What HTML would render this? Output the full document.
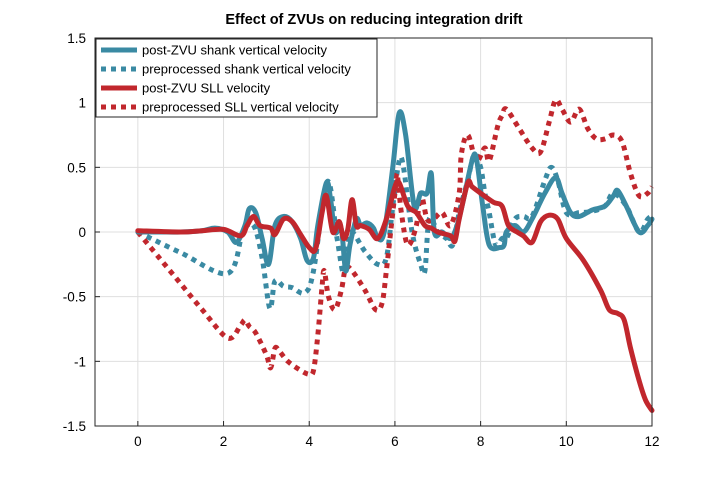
<!DOCTYPE html>
<html><head><meta charset="utf-8"><style>
body{margin:0;background:#fff;font-family:"Liberation Sans",sans-serif}
</style></head><body>
<svg id="chart" width="720" height="480" xmlns="http://www.w3.org/2000/svg" font-family="Liberation Sans, sans-serif">
<rect width="720" height="480" fill="#fff"/>
<text x="374" y="24" text-anchor="middle" font-size="14.5" font-weight="bold">Effect of ZVUs on reducing integration drift</text>
<g id="grid"></g><g id="series"></g><g id="axes"></g>
</svg>
<script>
const xTicks=[0,2,4,6,8,10,12];
const yTicks=[-1.5,-1,-0.5,0,0.5,1,1.5];
const yTickLabels=["-1.5","-1","-0.5","0","0.5","1","1.5"];
const seriesNames=["post-ZVU shank vertical velocity","preprocessed shank vertical velocity","post-ZVU SLL velocity","preprocessed SLL vertical velocity"];
const shankPostX=[0,0.5,1,1.5,1.8,2.1,2.3,2.5,2.6,2.75,2.9,3.05,3.2,3.4,3.6,3.8,3.95,4.1,4.2,4.4,4.5,4.6,4.75,4.85,4.95,5.1,5.2,5.35,5.5,5.6,5.75,5.95,6.1,6.25,6.45,6.6,6.75,6.85,6.92,7.1,7.3,7.45,7.6,7.8,7.9,8.05,8.2,8.45,8.55,8.6,8.8,9.0,9.2,9.5,9.75,9.9,10.1,10.3,10.6,10.9,11.1,11.2,11.4,11.7,11.9,12];
const shankPostY=[0,0,0,0.01,0.03,0,-0.08,0.05,0.18,0.15,-0.05,-0.25,0.05,0.12,0.08,-0.05,-0.22,-0.2,0.05,0.38,0.25,0,0.02,-0.3,-0.1,0.1,0.05,0.07,0.03,-0.05,0,0.5,0.92,0.75,0.2,0.3,0.3,0.45,0,0,-0.05,0.05,0.25,0.55,0.57,0.2,-0.1,-0.12,-0.1,0,0.05,0,0.1,0.3,0.42,0.3,0.15,0.12,0.17,0.2,0.28,0.32,0.2,0,0.05,0.1];
const shankPreX=[0,1,2.1,2.45,2.7,2.9,3.08,3.2,3.4,3.6,3.9,4.1,4.42,4.65,4.8,4.9,5.0,5.3,5.6,5.8,5.95,6.1,6.2,6.4,6.6,6.7,6.8,7.0,7.2,7.35,7.5,7.7,7.85,8.0,8.1,8.2,8.35,8.5,8.6,8.8,9.0,9.2,9.5,9.65,9.8,10.0,10.3,10.6,10.9,11.1,11.4,11.7,11.9,12];
const shankPreY=[0,-0.16,-0.32,0,0.05,-0.2,-0.59,-0.38,-0.42,-0.43,-0.47,-0.3,0.39,-0.05,-0.32,-0.1,0,-0.15,-0.25,-0.2,0.2,0.55,0.5,0,-0.25,-0.3,0.1,0,-0.05,-0.1,0.15,0.4,0.6,0.5,0.3,0.15,-0.1,-0.05,-0.05,0.1,0.12,0.12,0.4,0.5,0.4,0.15,0.15,0.16,0.2,0.3,0.2,0,0.1,0.12];
const sllPostX=[0,1,1.5,2,2.4,2.55,2.7,2.85,3.1,3.2,3.4,3.6,3.8,4.0,4.15,4.3,4.4,4.55,4.7,4.8,4.9,5.0,5.1,5.2,5.4,5.6,5.8,6.0,6.1,6.3,6.5,6.7,6.85,7.0,7.3,7.4,7.5,7.7,7.8,8.0,8.3,8.5,8.65,8.85,9.0,9.2,9.4,9.6,9.8,10.0,10.4,10.8,11.0,11.2,11.35,11.5,11.7,11.85,12];
const sllPostY=[0.01,0,0.01,0.02,-0.03,0.05,0.12,0.05,0.03,-0.02,0.1,0.08,-0.02,-0.12,-0.13,0.15,0.28,0,0.08,-0.05,0.02,0.25,0.05,0.05,0.02,-0.05,0.1,0.35,0.38,0.2,0.15,0.05,0.03,0,-0.03,-0.07,0.1,0.38,0.35,0.3,0.23,0.2,0.05,0,-0.03,-0.08,0.08,0.13,0.1,-0.05,-0.22,-0.45,-0.6,-0.63,-0.68,-0.9,-1.15,-1.3,-1.38];
const sllPreX=[0,0.5,1,1.5,2.1,2.4,2.5,2.6,2.75,3.0,3.1,3.2,3.3,3.5,3.8,4.0,4.1,4.2,4.3,4.35,4.45,4.6,4.75,4.85,5.0,5.3,5.55,5.7,5.8,5.9,6.0,6.05,6.15,6.3,6.5,6.6,6.75,6.9,7.1,7.3,7.5,7.55,7.7,7.9,8.1,8.2,8.4,8.5,8.6,8.9,9.2,9.4,9.6,9.75,9.9,10.1,10.3,10.5,10.7,10.9,11.1,11.3,11.5,11.7,11.9,12];
const sllPreY=[0,-0.2,-0.4,-0.6,-0.82,-0.72,-0.68,-0.73,-0.78,-0.95,-1.05,-0.9,-0.92,-1.0,-1.07,-1.1,-1.07,-0.8,-0.42,-0.3,-0.5,-0.6,-0.45,-0.28,-0.3,-0.45,-0.6,-0.55,-0.3,0,0.3,0.45,0.15,-0.1,0.05,0.3,0.1,0.1,0.15,0.05,0.3,0.6,0.75,0.55,0.65,0.55,0.82,0.9,0.95,0.8,0.65,0.62,0.85,1.02,0.95,0.85,0.95,0.8,0.72,0.72,0.75,0.7,0.45,0.28,0.3,0.35];

const L=95,R=652,T=38,B=426,xmin=-1,xmax=12,ymin=-1.5,ymax=1.5;
const sx=v=>L+(v-xmin)/(xmax-xmin)*(R-L);
const sy=v=>B-(v-ymin)/(ymax-ymin)*(B-T);
const NS="http://www.w3.org/2000/svg";
function mk(tag,attrs,parent){const e=document.createElementNS(NS,tag);for(const k in attrs)e.setAttribute(k,attrs[k]);parent.appendChild(e);return e;}
const grid=document.getElementById('grid'),axes=document.getElementById('axes'),ser=document.getElementById('series');
xTicks.forEach(t=>{
 const g=mk('line',{x1:sx(t),x2:sx(t),y1:T,y2:B,stroke:'#dfdfdf','stroke-width':1},grid);
 
 
 const tl=mk('text',{x:sx(t),y:B+20,'text-anchor':'middle','font-size':13.5},axes);tl.textContent=String(t);
 
 
 mk('line',{x1:sx(t),x2:sx(t),y1:B,y2:B-5,stroke:'#262626'},axes);
});
yTicks.forEach((t,i)=>{
 const g=mk('line',{x1:L,x2:R,y1:sy(t),y2:sy(t),stroke:'#dfdfdf','stroke-width':1},grid);
 
 
 const tl=mk('text',{x:L-9,y:sy(t)+5,'text-anchor':'end','font-size':13.5},axes);tl.textContent=yTickLabels[i];
 
 
 mk('line',{x1:L,x2:L+5,y1:sy(t),y2:sy(t),stroke:'#262626'},axes);
});
const box=mk('rect',{x:L,y:T,width:R-L,height:B-T,fill:'none',stroke:'#262626','stroke-width':1},axes);


function pathD(xs,ys){
 const p=xs.map((x,i)=>[sx(x),sy(ys[i])]);let d='M'+p[0][0]+','+p[0][1];
 for(let i=0;i<p.length-1;i++){const p0=p[i-1]||p[i],p1=p[i],p2=p[i+1],p3=p[i+2]||p2;
  const c1=[p1[0]+(p2[0]-p0[0])/6,p1[1]+(p2[1]-p0[1])/6],c2=[p2[0]-(p3[0]-p1[0])/6,p2[1]-(p3[1]-p1[1])/6];
  d+=`C${c1[0]},${c1[1]} ${c2[0]},${c2[1]} ${p2[0]},${p2[1]}`;}
 return d;}
const BLUE='#3a8aa3',RED='#c1272d';
const specs=[[shankPostX,shankPostY,BLUE,false,'post-zvu-shank-line'],[shankPreX,shankPreY,BLUE,true,'preprocessed-shank-line'],[sllPostX,sllPostY,RED,false,'post-zvu-sll-line'],[sllPreX,sllPreY,RED,true,'preprocessed-sll-line']];
const order=[1,3,0,2];
order.forEach(i=>{const s=specs[i];
 const p=mk('path',{d:pathD(s[0],s[1]),fill:'none',stroke:s[2],'stroke-width':5,'stroke-linejoin':'round','stroke-linecap':s[3]?'butt':'round'},ser);
 if(s[3])p.setAttribute('stroke-dasharray','5,5');
 
 
});
const lg=mk('g',{},axes);


mk('rect',{x:96,y:39,width:281,height:78,fill:'#fff',stroke:'#262626','stroke-width':1},lg);
specs.forEach((s,i)=>{const y=50+i*19;
 const l=mk('line',{x1:101,x2:137,y1:y,y2:y,stroke:s[2],'stroke-width':5},lg);
 if(s[3])l.setAttribute('stroke-dasharray','5,5');
 
 
 const t=mk('text',{x:142,y:y+4.5,'font-size':13},lg);t.textContent=seriesNames[i];
 
 
});
</script>
</body></html>
